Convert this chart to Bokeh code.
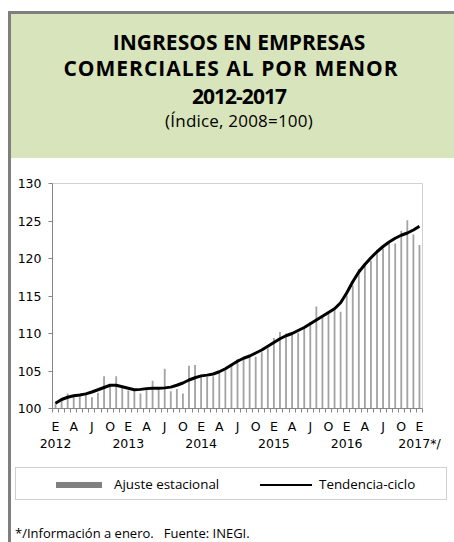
from bokeh.plotting import figure
from bokeh.models import Range1d, FixedTicker, LinearAxis, Div, Spacer, Row, Column
from bokeh.embed import file_html
from bokeh.resources import INLINE

# ---------------- data ----------------
years = [2012, 2013, 2014, 2015, 2016]
months = [f"{y}-{m:02d}" for y in years for m in range(1, 13)] + ["2017-01"]

ajuste = [100.8, 101.2, 102.0, 101.6, 101.7, 101.8, 101.5, 102.1, 104.3, 103.1, 104.3, 102.8,
          102.4, 102.4, 102.0, 102.5, 103.7, 102.6, 105.3, 102.3, 102.6, 102.0, 105.7, 105.8,
          104.2, 104.2, 104.3, 104.7, 105.1, 105.7, 106.6, 106.5, 106.9, 106.9, 107.5, 108.0,
          109.4, 110.2, 110.0, 110.2, 110.1, 110.9, 111.5, 113.6, 112.3, 112.6, 113.1, 112.9,
          115.1, 116.4, 118.6, 119.3, 119.7, 121.1, 121.3, 122.0, 122.0, 123.7, 125.1, 123.2,
          121.8]

tendencia = [100.7, 101.2, 101.5, 101.7, 101.8, 101.95, 102.2, 102.5, 102.8, 103.1, 103.1, 102.9,
             102.7, 102.5, 102.55, 102.65, 102.7, 102.7, 102.75, 102.85, 103.1, 103.4, 103.8, 104.1,
             104.35, 104.45, 104.6, 104.9, 105.3, 105.8, 106.3, 106.7, 107.0, 107.4, 107.8, 108.3,
             108.8, 109.3, 109.7, 110.0, 110.4, 110.8, 111.3, 111.8, 112.3, 112.8, 113.3, 114.1,
             115.4, 116.9, 118.2, 119.2, 120.1, 120.9, 121.6, 122.2, 122.7, 123.1, 123.4, 123.8,
             124.3]

y_ticks = [100, 105, 110, 115, 120, 125, 130]
month_letters = ["E", "A", "J", "O"]
year_labels = ["2012", "2013", "2014", "2015", "2016", "2017*/"]

title_lines = ["INGRESOS EN EMPRESAS", "COMERCIALES AL POR MENOR", "2012-2017"]
subtitle = "(Índice, 2008=100)"
legend_labels = ["Ajuste estacional", "Tendencia-ciclo"]
footer = "*/Información a enero.   Fuente: INEGI."

# ---------------- styling ----------------
W = 443
GREEN = "#d8e4bc"
FRAME_GRAY = "#7f7f7f"
AXIS_GRAY = "#868686"
BAR_GRAY = "#a3a3a3"
TICK_FONT = "DejaVu Sans"
CSS_FONT = "font-family:'Open Sans',sans-serif;color:#000;"

idx = list(range(len(months)))

# ---------------- header (HTML) ----------------
def line_div(text, cx, center_y, size, weight, spacing="0px"):
    return (f"<div style=\"position:absolute;left:{cx}px;top:{center_y - 11}px;height:22px;"
            f"line-height:22px;transform:translateX(-50%);white-space:nowrap;{CSS_FONT}"
            f"font-size:{size};font-weight:{weight};letter-spacing:{spacing};\">{text}</div>")

hdr_html = (f"<div style=\"position:relative;width:{W}px;height:147px;box-sizing:border-box;"
            f"border-top:3px solid {FRAME_GRAY};background:{GREEN};overflow:hidden;\">"
            + line_div(title_lines[0], 228, 27.5, "21px", 700)
            + line_div(title_lines[1], 220, 53.5, "21px", 700, "1px")
            + line_div(title_lines[2], 228, 81.5, "21px", 700, "-1px")
            + line_div(subtitle, 228, 107, "17px", 400, "0.2px")
            + "</div>")
hdr = Div(text=hdr_html, width=W, height=147, margin=0)

# ---------------- main chart ----------------
p = figure(width=W, height=300, x_range=Range1d(-0.5, len(months) - 0.5),
           y_range=Range1d(y_ticks[0], y_ticks[-1]),
           toolbar_location=None, output_backend="svg",
           min_border_left=41, min_border_right=32, min_border_top=25, min_border_bottom=50)
p.grid.visible = False
p.outline_line_color = "#d0d0d0"
p.background_fill_color = "white"
p.border_fill_color = "white"

p.vbar(x=idx, top=ajuste, bottom=y_ticks[0], width=0.3, fill_color=BAR_GRAY, line_color=None)
p.line(idx, tendencia, line_width=3, line_color="black", line_join="round")

ya = p.yaxis[0]
ya.ticker = FixedTicker(ticks=y_ticks)
ya.axis_line_color = AXIS_GRAY
ya.major_tick_line_color = AXIS_GRAY
ya.major_tick_out = 4
ya.major_tick_in = 0
ya.minor_tick_line_color = None
ya.major_label_standoff = 7
ya.major_label_text_font = TICK_FONT
ya.major_label_text_font_size = "12.5px"
ya.major_label_text_color = "black"

quarter_ticks = idx[::3]
xa = p.xaxis[0]
xa.ticker = FixedTicker(ticks=quarter_ticks,
                        minor_ticks=[i - 0.5 for i in idx] + [idx[-1] + 0.5])
xa.major_label_overrides = {t: month_letters[(t // 3) % 4] for t in quarter_ticks}
xa.axis_line_color = AXIS_GRAY
xa.major_tick_line_color = None
xa.major_tick_out = 0
xa.major_tick_in = 0
xa.minor_tick_line_color = AXIS_GRAY
xa.minor_tick_out = 4
xa.minor_tick_in = 0
xa.major_label_standoff = 6
xa.major_label_text_font = TICK_FONT
xa.major_label_text_font_size = "12.5px"
xa.major_label_text_color = "black"

year_ticks = [i for i, m in enumerate(months) if m.endswith("-01")]
xa2 = LinearAxis(ticker=FixedTicker(ticks=year_ticks),
                 major_label_overrides={t: year_labels[k] for k, t in enumerate(year_ticks)})
xa2.axis_line_color = None
xa2.major_tick_line_color = None
xa2.minor_tick_line_color = None
xa2.major_label_standoff = -7
xa2.major_label_text_font = TICK_FONT
xa2.major_label_text_font_size = "12.5px"
xa2.major_label_text_color = "black"
p.add_layout(xa2, "below")

# ---------------- legend + footer (HTML) ----------------
def abs_box(l, t, w, h, extra):
    return f"<div style=\"position:absolute;left:{l}px;top:{t}px;width:{w}px;height:{h}px;{extra}\"></div>"

def abs_text(l, cy, text, size):
    return (f"<div style=\"position:absolute;left:{l}px;top:{cy - 10}px;height:20px;line-height:20px;"
            f"white-space:pre;{CSS_FONT}font-size:{size};\">{text}</div>")

bot_html = ("<div style=\"position:relative;width:443px;height:84px;overflow:hidden;background:white;\">"
            + abs_box(4, 9, 432, 33, "box-sizing:border-box;border:1px solid #d0d0d0;")
            + abs_box(45, 23.5, 46, 6.5, "background:#808080;")
            + abs_box(249, 25.5, 52, 2.5, "background:#000;")
            + abs_text(103, 26, legend_labels[0], "13.4px")
            + abs_text(308, 26, legend_labels[1], "13.4px")
            + abs_text(4, 75, footer, "13px")
            + "</div>")
bot = Div(text=bot_html, width=W, height=84, margin=0)

# ---------------- assemble ----------------
strip = Column(children=[Spacer(width=3, height=11, margin=0),
                         Div(text="", width=3, height=531, margin=0,
                             styles={"background-color": FRAME_GRAY})],
               spacing=0, margin=0)
main_col = Column(children=[Spacer(width=W, height=11, margin=0), hdr, p, bot],
                  spacing=0, margin=0)
layout = Row(children=[Spacer(width=8, height=542, margin=0), strip, main_col],
             spacing=0, margin=0)

open("out.html", "w").write(file_html(layout, INLINE))
